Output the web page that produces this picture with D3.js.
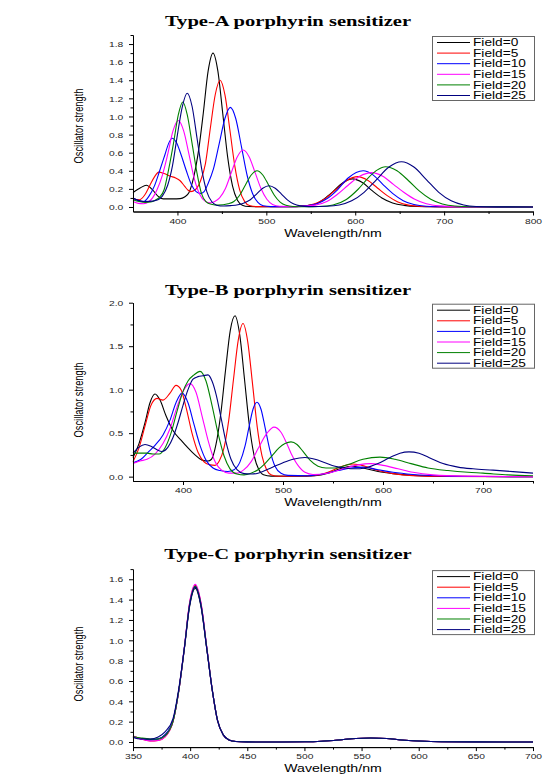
<!DOCTYPE html>
<html>
<head>
<meta charset="utf-8">
<script src="https://cdn.jsdelivr.net/npm/d3@7"></script>
<style>
  body { margin: 0; background: #fff; }
  svg { display: block; }
</style>
</head>
<body>
<div id="chart"></div>
<script>
const fieldLabels = ["Field=0", "Field=5", "Field=10", "Field=15", "Field=20", "Field=25"]
const fieldColors = ["#000000", "#ff0000", "#0000ff", "#ff00ff", "#008000", "#000080"]
const titles = ["Type-A porphyrin sensitizer", "Type-B porphyrin sensitizer", "Type-C porphyrin sensitizer"]

// Type-A, [wavelength nm, oscillator strength]
const aField0 = [[350,0.16],[358,0.21],[365,0.24],[372,0.19],[378,0.12],[384,0.09],[395,0.09],[403,0.092],[408,0.11],[413,0.16],[418,0.32],[424,0.64],[429,1.03],[434.5,1.5],[440,1.7],[445.5,1.5],[451,1.03],[456.5,0.55],[462,0.23],[467.5,0.075],[473,0.02],[480,0.005],[500,0.002],[530,0.003],[545,0.015],[555,0.03],[565,0.09],[575,0.17],[585,0.26],[597,0.31],[608,0.27],[619,0.18],[630,0.1],[642,0.045],[655,0.018],[670,0.006],[690,0.002],[800,0]]
const aField5 = [[350,0.09],[357,0.08],[363,0.13],[369,0.24],[374,0.33],[379,0.385],[385,0.37],[392,0.34],[398,0.32],[403,0.29],[408,0.23],[412,0.185],[415,0.17],[420,0.19],[426,0.29],[431.5,0.48],[437,0.87],[442.5,1.24],[448,1.4],[453.5,1.235],[459,0.85],[464.5,0.455],[470,0.19],[475.5,0.062],[481,0.016],[490,0.004],[530,0.003],[545,0.012],[556,0.04],[566,0.09],[578,0.19],[590,0.29],[603,0.335],[614,0.295],[625,0.21],[636,0.125],[648,0.055],[660,0.02],[675,0.006],[700,0.001],[800,0]]
const aField10 = [[350,0.1],[356,0.07],[362,0.06],[368,0.12],[374,0.23],[380,0.4],[386,0.58],[390,0.7],[394,0.76],[399,0.71],[404,0.58],[410,0.4],[416,0.24],[421,0.17],[426,0.15],[430,0.17],[434.5,0.26],[440.5,0.42],[447,0.7],[453.5,0.98],[459.5,1.1],[465.5,0.98],[472,0.667],[478.5,0.345],[484.5,0.149],[490.5,0.05],[496.5,0.013],[505,0.004],[530,0.003],[545,0.012],[557,0.035],[568,0.09],[580,0.19],[592,0.32],[609,0.4],[620,0.355],[631,0.25],[642,0.15],[654,0.07],[666,0.027],[680,0.008],[700,0.002],[800,0]]
const aField15 = [[350,0.06],[356,0.04],[362,0.035],[368,0.06],[372,0.1],[377,0.19],[383,0.35],[389,0.58],[395,0.84],[401,0.955],[407,0.84],[413,0.58],[419,0.31],[425,0.14],[431,0.065],[437,0.045],[442,0.06],[447.4,0.1],[454,0.204],[460.7,0.382],[467.4,0.556],[474,0.63],[480.6,0.556],[487.3,0.382],[494,0.204],[500.6,0.085],[507,0.028],[515,0.008],[535,0.004],[555,0.02],[568,0.06],[580,0.14],[592,0.24],[605,0.34],[619,0.38],[631,0.34],[643,0.25],[655,0.16],[667,0.085],[680,0.035],[695,0.012],[715,0.003],[800,0]]
const aField20 = [[350,0.08],[357,0.06],[364,0.05],[370,0.055],[375,0.075],[380,0.11],[385,0.19],[390,0.41],[395.5,0.7],[401,1.02],[406,1.16],[411,1.02],[416.5,0.7],[422,0.375],[427,0.15],[432,0.06],[438,0.03],[446,0.02],[457,0.035],[463.5,0.06],[470,0.13],[476.5,0.243],[483,0.353],[489.5,0.4],[496,0.353],[502.5,0.243],[509,0.13],[515.5,0.054],[522,0.018],[530,0.005],[545,0.003],[560,0.006],[575,0.022],[590,0.083],[603,0.193],[616,0.336],[625,0.41],[634,0.445],[647,0.4],[660,0.29],[672,0.177],[685,0.085],[698,0.033],[712,0.01],[730,0.003],[800,0]]
const aField25 = [[350,0.1],[357,0.07],[364,0.06],[372,0.065],[378,0.08],[383,0.12],[389,0.24],[394.5,0.46],[400,0.8],[405.5,1.11],[411,1.256],[416.5,1.11],[422,0.762],[427.5,0.408],[433,0.17],[438.5,0.06],[444,0.02],[452,0.01],[460,0.015],[468,0.025],[475,0.045],[482,0.08],[489,0.143],[496,0.207],[503,0.235],[510,0.207],[517,0.143],[524,0.076],[531,0.032],[538,0.012],[548,0.004],[568,0.008],[582,0.022],[596,0.068],[610,0.162],[624,0.303],[638,0.441],[652,0.5],[666,0.441],[680,0.303],[694,0.162],[708,0.068],[722,0.022],[736,0.006],[760,0.001],[800,0]]

// Type-B
const bField0 = [[350,0.22],[356,0.38],[362,0.62],[367,0.85],[372,0.95],[377,0.88],[383,0.7],[390,0.53],[398,0.42],[405,0.33],[412,0.25],[419,0.19],[425,0.18],[428.5,0.2],[433,0.37],[437.75,0.72],[442.5,1.22],[447.25,1.68],[452,1.85],[456.75,1.63],[461.5,1.12],[466.25,0.6],[471,0.25],[475.75,0.081],[480.5,0.021],[488,0.006],[515,0.005],[532,0.012],[545,0.04],[557,0.09],[568,0.12],[580,0.1],[595,0.06],[610,0.035],[630,0.015],[660,0.005],[700,0.001],[750,0]]
const bField5 = [[350,0.17],[356,0.33],[362,0.58],[368,0.82],[374,0.9],[380,0.88],[387,0.96],[393,1.05],[398,1.0],[403,0.8],[409,0.5],[415,0.28],[421,0.17],[427,0.135],[432,0.13],[436.25,0.18],[441,0.33],[445.75,0.65],[450.5,1.12],[455.25,1.57],[460,1.76],[464.75,1.55],[469.5,1.07],[474.25,0.57],[479,0.24],[483.75,0.077],[488.5,0.02],[496,0.005],[530,0.01],[545,0.05],[557,0.11],[570,0.145],[582,0.12],[595,0.07],[610,0.035],[630,0.012],[660,0.003],[750,0]]
const bField10 = [[350,0.16],[358,0.2],[365,0.28],[372,0.36],[380,0.48],[387,0.65],[393,0.85],[399,0.96],[405,0.85],[411,0.6],[417,0.36],[423,0.19],[430,0.1],[437,0.07],[445,0.06],[451,0.08],[457,0.17],[462,0.35],[466,0.57],[470,0.775],[474,0.855],[478,0.775],[482,0.57],[487,0.3],[492,0.12],[498,0.04],[505,0.015],[525,0.01],[540,0.03],[555,0.07],[568,0.1],[580,0.11],[595,0.08],[610,0.05],[630,0.025],[660,0.008],[700,0.002],[750,0]]
const bField15 = [[350,0.15],[357,0.18],[364,0.2],[372,0.26],[380,0.38],[387,0.55],[394,0.8],[401,1.0],[407,1.07],[413,0.97],[419,0.7],[425,0.42],[431,0.2],[438,0.08],[446,0.04],[454,0.04],[461,0.08],[468,0.17],[475,0.32],[484,0.5],[491,0.57],[498,0.51],[503,0.4],[508,0.27],[515,0.13],[522,0.05],[530,0.025],[545,0.04],[560,0.09],[575,0.135],[588,0.15],[600,0.13],[615,0.09],[630,0.05],[650,0.02],[680,0.006],[750,0]]
const bField20 = [[350,0.27],[357,0.27],[364,0.27],[370,0.26],[376,0.26],[382,0.33],[388,0.5],[394,0.75],[400,0.98],[405,1.1],[411,1.17],[417,1.21],[423,1.1],[429,0.82],[435,0.5],[441,0.24],[447,0.09],[454,0.03],[461,0.02],[468,0.04],[475,0.08],[482,0.15],[489,0.24],[496,0.33],[502,0.38],[508,0.4],[514,0.37],[520,0.29],[527,0.19],[535,0.12],[543,0.1],[552,0.1],[565,0.14],[580,0.2],[597,0.225],[612,0.2],[628,0.15],[645,0.1],[665,0.07],[685,0.05],[700,0.04],[725,0.02],[750,0.01]]
const bField25 = [[350,0.27],[356,0.34],[362,0.37],[368,0.35],[374,0.31],[379,0.29],[385,0.34],[390,0.45],[395,0.62],[400,0.82],[405,1.0],[410,1.12],[415,1.15],[420,1.16],[425,1.17],[429,1.1],[433,0.95],[438,0.68],[443,0.4],[448,0.2],[454,0.08],[461,0.035],[468,0.03],[475,0.04],[482,0.07],[490,0.11],[500,0.16],[510,0.2],[522,0.22],[532,0.2],[542,0.16],[552,0.12],[562,0.1],[572,0.09],[582,0.1],[595,0.15],[607,0.22],[617,0.27],[626,0.285],[636,0.27],[648,0.21],[660,0.15],[675,0.11],[690,0.09],[710,0.075],[730,0.058],[750,0.04]]

// Type-C, shared wavelength grid
const cWave = [350,357,365,372,378,385,390,395,399.5,404.5,409.5,414.5,419.5,424,429,434,440,450,480,500,515,530,545,558,572,585,600,620,650,700]
const cField0 = [0.05,0.035,0.025,0.03,0.07,0.21,0.5,0.92,1.33,1.51,1.33,0.92,0.5,0.21,0.07,0.02,0.005,0.001,0,0.002,0.008,0.02,0.035,0.04,0.035,0.02,0.01,0.003,0.001,0]
const cField5 = [0.06,0.03,0.01,0.015,0.05,0.2,0.5,0.93,1.36,1.54,1.36,0.93,0.5,0.21,0.07,0.02,0.005,0.001,0,0.002,0.008,0.02,0.035,0.04,0.035,0.02,0.01,0.003,0.001,0]
const cField10 = [0.05,0.03,0.02,0.03,0.07,0.21,0.5,0.93,1.35,1.53,1.35,0.93,0.5,0.21,0.07,0.02,0.005,0.001,0,0.002,0.008,0.02,0.035,0.04,0.035,0.02,0.01,0.003,0.001,0]
const cField15 = [0.06,0.03,0.01,0.015,0.05,0.2,0.5,0.94,1.37,1.55,1.37,0.94,0.5,0.21,0.07,0.02,0.005,0.001,0,0.002,0.008,0.02,0.035,0.04,0.035,0.02,0.01,0.003,0.001,0]
const cField20 = [0.055,0.04,0.03,0.03,0.06,0.2,0.5,0.93,1.35,1.53,1.35,0.93,0.5,0.21,0.07,0.02,0.005,0.001,0,0.002,0.008,0.02,0.035,0.04,0.035,0.02,0.01,0.003,0.001,0]
const cField25 = [0.045,0.03,0.03,0.05,0.1,0.23,0.52,0.93,1.34,1.52,1.34,0.92,0.5,0.21,0.07,0.02,0.005,0.001,0,0.002,0.008,0.02,0.035,0.04,0.035,0.02,0.01,0.003,0.001,0]

// ticks
const aXTicks = [400, 500, 600, 700, 800], aXMinor = [450, 550, 650, 750]
const aYTicks = [0, 0.2, 0.4, 0.6, 0.8, 1.0, 1.2, 1.4, 1.6, 1.8], aYMinor = [0.1, 0.3, 0.5, 0.7, 0.9, 1.1, 1.3, 1.5, 1.7, 1.9]
const bXTicks = [400, 500, 600, 700], bXMinor = [450, 550, 650, 750]
const bYTicks = [0, 0.5, 1.0, 1.5, 2.0], bYMinor = [0.25, 0.75, 1.25, 1.75]
const cXTicks = [350, 400, 450, 500, 550, 600, 650, 700], cXMinor = [375, 425, 475, 525, 575, 625, 675]
const cYTicks = [0, 0.2, 0.4, 0.6, 0.8, 1.0, 1.2, 1.4, 1.6], cYMinor = [0.1, 0.3, 0.5, 0.7, 0.9, 1.1, 1.3, 1.5, 1.7]

const SX = 1.37  // the picture is stretched sideways, so is its text
const sans = "'Liberation Sans', Arial, sans-serif"
const serif = "'Liberation Serif', 'Times New Roman', serif"
const plotLeft = 133, plotRight = 533

const svg = d3.select("#chart").append("svg")
    .attr("width", 544)
    .attr("height", 775)

const panels = [
    { title: titles[0], series: [aField0, aField5, aField10, aField15, aField20, aField25],
      xDomain: [350, 800], yDomain: [-0.05, 1.9], top: 35, bottom: 211.5, titleY: 25.5, yLabelY: 126,
      xTicks: aXTicks, xMinor: aXMinor, yTicks: aYTicks, yMinor: aYMinor },
    { title: titles[1], series: [bField0, bField5, bField10, bField15, bField20, bField25],
      xDomain: [350, 750], yDomain: [-0.05, 2.0], top: 302.7, bottom: 481, titleY: 294.5, yLabelY: 400,
      xTicks: bXTicks, xMinor: bXMinor, yTicks: bYTicks, yMinor: bYMinor },
    { title: titles[2], series: [cField0, cField5, cField10, cField15, cField20, cField25].map(vals => vals.map((v, i) => [cWave[i], v])),
      xDomain: [350, 700], yDomain: [-0.05, 1.7], top: 569.1, bottom: 747.1, titleY: 559, yLabelY: 664,
      xTicks: cXTicks, xMinor: cXMinor, yTicks: cYTicks, yMinor: cYMinor }
]

function stretchedText(g, txt, x, y, size, family, weight, anchor) {
    return g.append("text")
        .attr("transform", `translate(${x},${y}) scale(${SX},1)`)
        .attr("text-anchor", anchor || "middle")
        .attr("font-family", family)
        .attr("font-size", size)
        .attr("font-weight", weight || "normal")
        .attr("fill", "#000")
        .text(txt)
}

function drawPanel(p) {
    const g = svg.append("g")
    const x = d3.scaleLinear().domain(p.xDomain).range([plotLeft, plotRight])
    const y = d3.scaleLinear().domain(p.yDomain).range([p.bottom, p.top])

    const line = d3.line()
        .x(d => x(d[0]))
        .y(d => y(d[1]))
        .curve(d3.curveMonotoneX)

    g.selectAll(".curve")
        .data(p.series)
        .enter().append("path")
        .attr("class", "curve")
        .attr("fill", "none")
        .attr("stroke", (d, i) => fieldColors[i])
        .attr("stroke-width", 1.1)
        .attr("d", line)

    // axes, major + minor ticks
    const xAxis = g.append("g")
        .attr("transform", `translate(0,${p.bottom})`)
        .call(d3.axisBottom(x).tickValues(p.xTicks).tickSize(4).tickSizeOuter(0).tickFormat(d3.format("d")))
    g.append("g")
        .attr("transform", `translate(0,${p.bottom})`)
        .call(d3.axisBottom(x).tickValues(p.xMinor).tickSize(2.5).tickSizeOuter(0).tickFormat(""))
    const yAxis = g.append("g")
        .attr("transform", `translate(${plotLeft},0)`)
        .call(d3.axisLeft(y).tickValues(p.yTicks).tickSize(4).tickSizeOuter(0).tickFormat(d3.format(".1f")))
    g.append("g")
        .attr("transform", `translate(${plotLeft},0)`)
        .call(d3.axisLeft(y).tickValues(p.yMinor).tickSize(2.5).tickSizeOuter(0).tickFormat(""))

    g.selectAll(".domain, .tick line").attr("stroke", "#000")

    xAxis.selectAll("text")
        .attr("y", 0).attr("dy", 0)
        .attr("transform", `translate(0,12.3) scale(${SX},1)`)
        .attr("font-family", sans).attr("font-size", 7.5).attr("fill", "#222")
    yAxis.selectAll("text")
        .attr("x", 0).attr("dy", 0)
        .attr("transform", `translate(-9.7,2.7) scale(${SX},1)`)
        .attr("font-family", sans).attr("font-size", 7.5).attr("fill", "#222")

    // titles and axis labels
    stretchedText(g, p.title, 288, p.titleY, 15, serif, "bold")
    stretchedText(g, "Wavelength/nm", 333, p.bottom + 25, 10.3, sans)
    g.append("text")
        .attr("transform", `translate(83,${p.yLabelY}) scale(${SX},1) rotate(-90)`)
        .attr("text-anchor", "middle")
        .attr("font-family", sans)
        .attr("font-size", 9.3)
        .text("Oscillator strength")

    // legend
    const lg = g.append("g").attr("transform", `translate(432,${p.top + 1})`)
    lg.append("rect")
        .attr("x", 0.5).attr("y", 0.5)
        .attr("width", 102).attr("height", 64)
        .attr("fill", "#fff")
        .attr("stroke", "#666")
    fieldLabels.forEach((lab, i) => {
        const ly = 6.5 + i * 10.6
        lg.append("line")
            .attr("x1", 5).attr("x2", 38)
            .attr("y1", ly).attr("y2", ly)
            .attr("stroke", fieldColors[i])
        stretchedText(lg, lab, 41, ly + 3.6, 10, sans, "normal", "start")
    })
}

panels.forEach(drawPanel)
</script>
</body>
</html>
